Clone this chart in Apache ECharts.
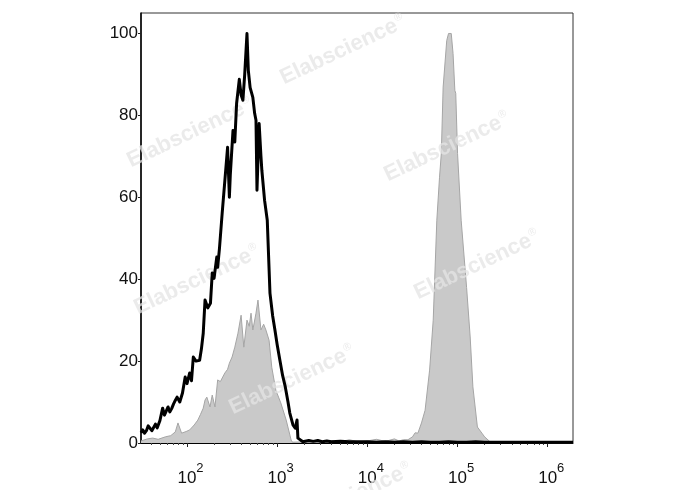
<!DOCTYPE html>
<html>
<head>
<meta charset="utf-8">
<script src="https://cdn.jsdelivr.net/npm/echarts@6/dist/echarts.min.js"></script>
<style>
html,body{margin:0;padding:0;background:#fff;}
#chart{width:688px;height:490px;}
</style>
</head>
<body>
<div id="chart"></div>
<script>
// x positions in log10(fluorescence intensity); y = % of max count
var ctrlLogX = [1.49,1.51,1.53,1.55,1.57,1.59,1.61,1.63,1.65,1.67,1.70,1.73,1.75,1.77,1.79,1.81,1.83,1.85,1.87,1.89,1.92,1.95,1.98,2.00,2.03,2.05,2.07,2.10,2.12,2.14,2.16,2.18,2.20,2.23,2.26,2.28,2.30,2.33,2.34,2.36,2.39,2.42,2.45,2.47,2.48,2.51,2.53,2.55,2.58,2.60,2.62,2.64,2.665,2.68,2.70,2.73,2.75,2.765,2.776,2.80,2.82,2.83,2.86,2.89,2.92,2.95,2.975,3.00,3.03,3.06,3.09,3.12,3.14,3.175,3.20,3.22,3.23,3.285,3.35,3.40,3.45,3.50,3.55,3.60,3.70,3.80,3.90,4.00,4.10,4.20,4.30,4.40,4.50,4.60,4.70,4.80,4.90,5.00,5.10,5.20,5.30,5.40,5.50,5.60,5.70,5.80,5.90,6.00,6.10,6.20,6.28];
var ctrlCount = [2.5,3.2,2.4,3.0,4.2,3.9,3.0,3.3,4.6,3.7,5.5,8.5,6.8,7.0,8.8,7.6,8.4,9.5,10.4,11.2,10.0,12.2,16.1,14.5,17.1,15.2,21.0,20.0,19.6,20.2,23.0,26.8,34.9,33.0,34.1,41.5,40.2,45.4,42.9,47.5,56.1,64.1,72.2,60.0,65.4,76.3,73.5,82.9,88.8,85.0,83.7,90.0,100,91.0,86.8,84.4,80.5,78.8,61.7,78.0,70.0,66.6,59.3,54.4,36.6,31.0,27.6,24.0,20.2,16.5,13.7,10.0,7.3,4.4,3.6,5.6,1.2,0.3,0.6,0.4,0.6,0.3,0.5,0.3,0.4,0.3,0.3,0.3,0.2,0.3,0.2,0.3,0.2,0.3,0.2,0.2,0.3,0.2,0.2,0.3,0.2,0.2,0.2,0.2,0.2,0.2,0.2,0.2,0.2,0.2,0.2];

var stainLogX = [1.49,1.51,1.56,1.62,1.68,1.76,1.82,1.87,1.90,1.94,1.99,2.03,2.08,2.12,2.15,2.18,2.20,2.22,2.255,2.28,2.31,2.34,2.37,2.39,2.42,2.45,2.47,2.50,2.53,2.565,2.60,2.63,2.665,2.69,2.71,2.73,2.765,2.787,2.82,2.85,2.875,2.91,2.94,2.985,3.04,3.10,3.155,3.17,3.30,3.50,3.60,3.70,3.80,3.90,4.00,4.10,4.20,4.30,4.35,4.40,4.45,4.50,4.53,4.56,4.60,4.64,4.69,4.73,4.77,4.80,4.82,4.84,4.88,4.90,4.93,4.95,4.97,4.98,5.00,5.04,5.10,5.14,5.17,5.22,5.27,5.30,5.36,5.45,6.28];
var stainCount = [0.5,0.7,1.0,1.2,0.9,1.5,1.8,2.7,4.9,2.4,2.8,3.2,4.4,5.6,7.0,8.5,10.5,11.2,8.8,11.7,8.8,15.4,15.0,15.4,17.1,18.0,19.5,21.0,23.4,26.8,31.2,23.4,30.0,28.5,31.7,27.6,31.7,34.9,27.6,29.0,27.6,25.1,18.5,12.9,9.8,5.6,0.7,0.2,0.3,0.2,0.6,0.3,0.8,0.3,0.5,0.9,0.4,1.0,0.5,0.8,0.8,1.5,2.5,2.4,4.9,8.0,17.8,30.0,54.4,64.9,70.7,86.9,98.3,100,100,95.1,86.1,85.4,70.7,54.4,38.0,25.9,13.7,3.9,2.4,1.5,0.3,0.1,0];

var yTicks = [0,20,40,60,80,100];
var xMajor = [2,3,4,5,6];
var xMinor = [];
[1,2,3,4,5,6].forEach(function(d){
  for (var k = 2; k <= 9; k++) {
    var v = d + Math.log10(k);
    if (v > 1.49 && v < 6.28) xMinor.push(v);
  }
});

function pairs(xs, ys){ return xs.map(function(x,i){ return [x, ys[i]]; }); }

var wm = [[343,50],[190,133],[447,147],[197,280],[477,265],[292,380],[349,498]];
var wmColor = 'rgba(228,228,228,0.75)';
var graphics = wm.map(function(p){
  return {
    type: 'text', x: p[0], y: p[1], rotation: 0.44, z: 3, silent: true,
    style: {
      text: '{a|Elabscience}{r|®}',
      align: 'center', verticalAlign: 'middle',
      rich: {
        a: {fontSize: 22, fontWeight: 'bold', fontFamily: 'Liberation Sans', fill: wmColor},
        r: {fontSize: 11, fontFamily: 'Liberation Sans', fill: wmColor, verticalAlign: 'top', padding:[0,0,12,1]}
      }
    }
  };
});

var chart = echarts.init(document.getElementById('chart'), null, {renderer: 'canvas'});
chart.setOption({
  animation: false,
  backgroundColor: '#fff',
  grid: {left: 141, right: 115, top: 13, bottom: 47, show: true, borderColor: '#333', borderWidth: 1, backgroundColor: 'transparent'},
  graphic: graphics,
  xAxis: [{
    type: 'value', min: 1.49, max: 6.28,
    splitLine: {show: false},
    axisLine: {show: true, lineStyle: {color: '#000', width: 1}},
    axisTick: {show: true, customValues: xMajor, length: 4, lineStyle: {color: '#222'}},
    axisLabel: {
      customValues: xMajor, margin: 19,
      formatter: function(v){ return '{sp|}{b|10}{s|' + Math.round(v) + '}'; },
      rich: {
        sp: {width: 7},
        b: {fontSize: 17, fontFamily: 'Liberation Sans', color: '#111', verticalAlign: 'bottom', lineHeight: 25},
        s: {fontSize: 13, fontFamily: 'Liberation Sans', color: '#111', verticalAlign: 'top', lineHeight: 25}
      }
    }
  },{
    type: 'value', min: 1.49, max: 6.28, position: 'bottom',
    splitLine: {show: false},
    axisLine: {show: false},
    axisTick: {show: true, customValues: xMinor, length: 2, lineStyle: {color: '#444'}},
    axisLabel: {show: false}
  }],
  yAxis: {
    type: 'value', min: 0, max: 105,
    splitLine: {show: false},
    axisLine: {show: true, lineStyle: {color: '#000', width: 1.5}},
    axisTick: {show: true, customValues: yTicks, length: 3, lineStyle: {color: '#222'}},
    axisLabel: {customValues: yTicks, margin: 3, fontSize: 17, fontFamily: 'Liberation Sans', color: '#111', padding: [10,0,0,0]}
  },
  series: [{
    type: 'line', name: 'stained', xAxisIndex: 0, z: 2,
    data: pairs(stainLogX, stainCount),
    showSymbol: false, smooth: false,
    lineStyle: {color: '#a5a5a5', width: 1},
    areaStyle: {color: '#c9c9c9', opacity: 1}
  },{
    type: 'line', name: 'control', xAxisIndex: 0, z: 4,
    data: pairs(ctrlLogX, ctrlCount),
    showSymbol: false, smooth: false,
    lineStyle: {color: '#000', width: 3, join: 'round'}
  }]
});
</script>
</body>
</html>
